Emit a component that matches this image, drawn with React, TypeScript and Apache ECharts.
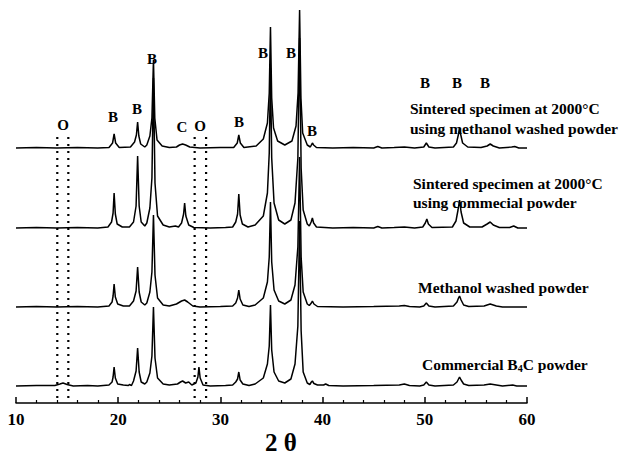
import React, { useEffect, useRef } from "react";
import * as echarts from "echarts";

// 2θ (deg) vs relative intensity for each pattern (baseline = 0)
const sinteredMethanol: number[][] = [
  [10, 0], [12, 0.5], [14, 0], [16, 0.5], [18, 0], [19.1, 0.5], [19.45, 5], [19.6, 14], [19.75, 5], [20.1, 0.5],
  [21.2, 1], [21.6, 6], [21.78, 13], [21.9, 26], [22.02, 12], [22.2, 4], [22.6, 1],
  [22.8, 3], [23.1, 12], [23.3, 30], [23.45, 88], [23.58, 30], [23.8, 8], [24.3, 2], [25, 0.5],
  [25.7, 1], [26.0, 3], [26.3, 4], [26.6, 3], [27, 1], [28, 0], [30, 0.5], [31.3, 0.5], [31.65, 5], [31.8, 13], [31.95, 5], [32.3, 0.5],
  [33.5, 2], [34.2, 9], [34.6, 25], [34.78, 55], [34.9, 121], [35.02, 50], [35.2, 20], [35.6, 7], [36.3, 3],
  [37.0, 7], [37.4, 22], [37.6, 55], [37.75, 138], [37.88, 50], [38.05, 15], [38.5, 3],
  [38.8, 1], [38.9, 3], [39.0, 5], [39.12, 3], [39.4, 0.5], [41, 0], [43, 0.5], [45, 0], [45.4, 1.5], [45.8, 0], [47, 0.5], [48, 1], [49, 0],
  [49.9, 1], [50.15, 5], [50.4, 1], [51, 0], [52.8, 1], [53.1, 5], [53.3, 14], [53.4, 20], [53.5, 14], [53.7, 5], [54.2, 1],
  [55.5, 0.5], [56.1, 2], [56.4, 4], [56.7, 2], [57.3, 0], [58.5, 1], [58.8, 1.5], [59.2, 0], [60, 0],
];

const sinteredCommercial: number[][] = [
  [10, 0], [12, 0.5], [14, 0], [16, 0.5], [18, 0], [19.0, 1], [19.35, 6], [19.5, 15], [19.6, 35], [19.72, 14], [19.9, 4], [20.4, 1],
  [21.1, 1], [21.5, 6], [21.75, 22], [21.9, 72], [22.05, 22], [22.25, 6], [22.6, 2],
  [22.8, 5], [23.1, 20], [23.3, 50], [23.45, 150], [23.6, 45], [23.85, 12], [24.4, 3], [25, 1], [25.6, 2], [25.9, 1],
  [26.2, 5], [26.4, 14], [26.5, 25], [26.62, 12], [26.9, 3], [27.4, 0.5], [29, 0], [30.5, 0.5],
  [31.2, 1], [31.5, 6], [31.68, 14], [31.8, 34], [31.93, 13], [32.15, 4], [32.7, 1],
  [33.4, 3], [34.2, 12], [34.6, 35], [34.78, 75], [34.9, 160], [35.02, 70], [35.25, 25], [35.7, 8], [36.3, 4],
  [36.9, 8], [37.3, 25], [37.58, 70], [37.75, 190], [37.9, 60], [38.1, 18], [38.5, 4],
  [38.7, 2], [38.88, 6], [39.0, 10], [39.12, 5], [39.4, 1], [41, 0], [43, 0.5], [45, 0], [45.4, 1.5], [45.8, 0], [47, 0.5], [48, 1], [49, 0],
  [49.8, 1], [50.05, 5], [50.2, 9], [50.35, 4], [50.7, 0.5], [52.7, 1], [53.05, 7], [53.25, 18], [53.4, 28], [53.55, 16], [53.8, 5], [54.4, 1],
  [55.6, 1], [56.1, 4], [56.4, 6], [56.7, 3], [57.3, 0.5], [58.3, 0.5], [58.7, 2], [59.1, 0], [60, 0],
];

const methanolWashed: number[][] = [
  [10, 0], [12, 0.5], [14, 0], [16, 0.5], [18, 0], [19.1, 1], [19.4, 5], [19.5, 11], [19.6, 23], [19.72, 10], [19.95, 3], [20.5, 1],
  [21.1, 1], [21.5, 6], [21.75, 16], [21.9, 40], [22.05, 15], [22.25, 5], [22.6, 2],
  [22.8, 4], [23.1, 15], [23.3, 35], [23.45, 92], [23.6, 32], [23.85, 9], [24.4, 2], [25, 1],
  [25.7, 3], [26.2, 6], [26.5, 7], [26.8, 5], [27.3, 1], [28, 0], [30, 0.5],
  [31.2, 1], [31.5, 4], [31.68, 9], [31.8, 17], [31.93, 8], [32.2, 2], [32.8, 0.5],
  [33.4, 2], [34.2, 9], [34.6, 25], [34.78, 50], [34.9, 105], [35.02, 45], [35.25, 17], [35.7, 6], [36.3, 3],
  [36.9, 7], [37.3, 22], [37.58, 60], [37.75, 150], [37.9, 50], [38.1, 15], [38.5, 3],
  [38.7, 1.5], [38.9, 4], [39.0, 6], [39.15, 3], [39.5, 0.5], [42, 0], [45, 0.5], [47.5, 1], [48, 1.5], [48.5, 0.5], [49.5, 0],
  [49.9, 1], [50.15, 4], [50.4, 1], [51, 0], [52.8, 1], [53.15, 5], [53.3, 9], [53.4, 11], [53.55, 7], [53.8, 2], [54.3, 0.5],
  [55.8, 1], [56.4, 3], [57, 1], [57.6, 0], [60, 0],
];

const commercialB4C: number[][] = [
  [10, 0], [12, 0.5], [13.8, 0.5], [14.3, 2], [14.6, 3], [15, 1.5], [15.6, 0], [17, 0.5], [18, 0],
  [19.1, 1], [19.4, 4], [19.5, 9], [19.6, 19], [19.72, 8], [19.95, 2], [20.5, 1], [21, 0.5], [21.1, 1.5], [21.3, 0.5],
  [21.5, 5], [21.75, 15], [21.9, 38], [22.05, 14], [22.25, 4], [22.6, 2],
  [22.8, 4], [23.1, 13], [23.3, 30], [23.45, 79], [23.6, 28], [23.85, 8], [24.4, 2], [25, 1],
  [25.8, 2], [26.1, 4], [26.3, 5], [26.6, 3], [26.9, 4], [27.2, 1], [27.6, 3], [27.8, 9], [27.9, 19], [28.02, 8], [28.3, 1], [29, 0], [30.5, 0.5],
  [31.2, 1], [31.5, 4], [31.68, 7], [31.8, 14], [31.93, 6], [32.2, 2], [32.8, 0.5],
  [33.4, 2], [34.2, 8], [34.6, 22], [34.78, 40], [34.9, 81], [35.02, 36], [35.25, 14], [35.7, 5], [36.3, 3],
  [36.9, 7], [37.3, 22], [37.58, 60], [37.75, 165], [37.9, 55], [38.1, 14], [38.5, 3],
  [38.75, 1.5], [38.9, 4], [39.0, 5], [39.15, 2.5], [39.5, 1], [40.1, 1], [40.3, 2], [40.6, 0.5], [42, 0], [45, 0.5],
  [47.5, 1], [48, 2], [48.5, 0.5], [49.5, 0],
  [49.9, 1], [50.15, 4], [50.4, 1], [51, 0], [52.8, 1], [53.15, 4], [53.3, 7], [53.4, 9], [53.55, 6], [53.8, 2], [54.3, 0.5],
  [55.8, 1], [56.4, 2], [57, 1], [57.6, 0], [58.6, 1], [59, 0], [60, 0],
];

const patterns = [sinteredMethanol, sinteredCommercial, methanolWashed, commercialB4C];
const patternOffsets = [255, 175, 96, 17];

// dotted guide lines (2θ positions) and their vertical extent (intensity units)
const guideLines = [14.04, 15.12, 27.48, 28.6];
const guideRange = [5, 270];

const xTicks = [10, 20, 30, 40, 50, 60];

const SERIF = '"Liberation Serif", "Times New Roman", serif';

export default function App() {
  const ref = useRef<HTMLDivElement>(null);

  useEffect(() => {
    if (!ref.current) return;
    const chart = echarts.init(ref.current, undefined, { renderer: "svg" });

    const traceSeries = patterns.map((p, i) => ({
      type: "line",
      data: p.map(([x, y]) => [x, y + patternOffsets[i]]),
      symbol: "none",
      lineStyle: { color: "#000", width: 1.5 },
      silent: true,
      z: 3,
    }));

    const guideSeries = guideLines.map((gx) => ({
      type: "line",
      data: guideRange.map((v) => [gx, v]),
      symbol: "none",
      lineStyle: { color: "#000", width: 2.2, type: [2, 5] },
      silent: true,
      z: 2,
    }));

    const txt = (text: string, x: number, y: number, size: number, align = "center") => ({
      type: "text",
      x,
      y,
      silent: true,
      style: {
        text,
        font: `bold ${size}px ${SERIF}`,
        fill: "#000",
        align,
        verticalAlign: "middle",
        textAlign: align,
        textVerticalAlign: "middle",
      },
    });

    const peakLabels: [string, number, number][] = [
      ["O", 63, 125], ["B", 113, 117], ["B", 137, 109], ["B", 152, 59], ["C", 182, 127],
      ["O", 200, 126], ["B", 239, 122], ["B", 263, 53], ["B", 291, 53], ["B", 312, 131],
      ["B", 425, 83], ["B", 457, 83], ["B", 485, 83],
    ];

    chart.setOption({
      animation: false,
      backgroundColor: "#fff",
      grid: { left: 16, right: 99, top: 3, bottom: 51, containLabel: false },
      xAxis: {
        type: "value",
        min: xTicks[0],
        max: xTicks[xTicks.length - 1],
        interval: 10,
        axisLine: { show: true, onZero: false, lineStyle: { color: "#000", width: 1.5 } },
        axisTick: { show: true, inside: true, length: 6, lineStyle: { color: "#000", width: 1.5 } },
        minorTick: { show: true, splitNumber: 5, length: 3, lineStyle: { color: "#000", width: 1.2 } },
        axisLabel: { color: "#000", fontFamily: SERIF, fontWeight: "bold", fontSize: 17, margin: 8 },
        splitLine: { show: false },
        minorSplitLine: { show: false },
      },
      yAxis: { type: "value", min: 0, max: 400, show: false },
      series: [...guideSeries, ...traceSeries],
      graphic: [
        ...peakLabels.map(([t, x, y]) => txt(t, x, y, 15)),
        txt("Sintered specimen at 2000°C", 410, 108, 15.5, "left"),
        txt("using methanol washed powder", 410, 128, 15.5, "left"),
        txt("Sintered specimen at 2000°C", 413, 183, 15.5, "left"),
        txt("using commecial powder", 413, 202, 15.5, "left"),
        txt("Methanol washed powder", 418, 287, 15.5, "left"),
        {
          type: "text",
          x: 422,
          y: 364,
          silent: true,
          style: {
            text: "{a|Commercial B}{s|4}{a|C powder}",
            align: "left",
            verticalAlign: "middle",
            textAlign: "left",
            textVerticalAlign: "middle",
            rich: {
              a: { font: `bold 15.5px ${SERIF}`, fill: "#000", color: "#000" },
              s: { font: `bold 10px ${SERIF}`, fill: "#000", color: "#000", padding: [8, 0, 0, 0] },
            },
          },
        },
        txt("2 θ", 281, 442, 25),
      ],
    });

    return () => chart.dispose();
  }, []);

  return (
    <div
      ref={ref}
      style={{ position: "fixed", left: 0, top: 0, width: 626, height: 454, background: "#fff" }}
    />
  );
}
